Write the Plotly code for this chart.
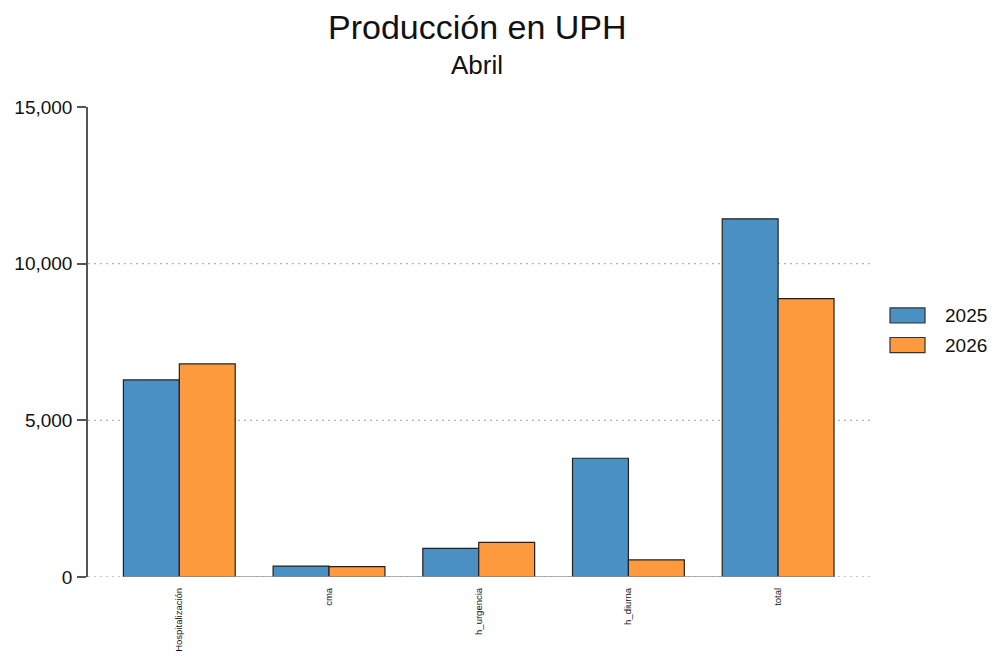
import plotly.graph_objects as go

categories = ["Hospitalización", "cma", "h_urgencia", "h_diurna", "total"]
years = ["2025", "2026"]
values_2025 = [6290, 350, 915, 3790, 11430]
values_2026 = [6800, 330, 1105, 545, 8885]
colors = ["#4a90c2", "#fd9a3d"]
y_ticks = [0, 5000, 10000, 15000]

fig = go.Figure()
for name, vals, col in zip(years, [values_2025, values_2026], colors):
    fig.add_trace(go.Bar(
        x=categories, y=vals, name=name,
        marker=dict(color=col, line=dict(color="#222222", width=1.2)),
        showlegend=False,
    ))

PLOT_L = 88
PLOT_W = 782
shapes = []
# dotted gridlines (not at the top tick)
for v in y_ticks[:-1]:
    shapes.append(dict(type="line", xref="paper", yref="y", x0=0, x1=1, y0=v, y1=v,
                       line=dict(color="#b5b5b5", width=1.3, dash="2px,4px"), layer="below"))
# baseline under the bars
shapes.append(dict(type="line", xref="x", yref="y", x0=-0.373, x1=len(categories) - 1 + 0.373,
                   y0=0, y1=0, line=dict(color="#999999", width=1.5)))

# custom legend
annotations = []
for i, (name, col) in enumerate(zip(years, colors)):
    yc = 0.5564 - i * 0.0628
    shapes.append(dict(type="rect", xref="paper", yref="paper",
                       x0=(890 - PLOT_L) / PLOT_W, x1=(925 - PLOT_L) / PLOT_W,
                       y0=yc - 0.016, y1=yc + 0.016,
                       fillcolor=col, line=dict(color="#333333", width=1.2)))
    annotations.append(dict(xref="paper", yref="paper", x=(943 - PLOT_L) / PLOT_W, y=yc, text=name,
                            showarrow=False, xanchor="left", yanchor="middle",
                            font=dict(size=19, color="#111111")))

annotations.append(dict(xref="paper", yref="paper", x=(477 - PLOT_L) / PLOT_W, y=(577 - 27) / 470,
                        text="Producción en UPH", showarrow=False, xanchor="center",
                        yanchor="middle", font=dict(size=34, color="#111111")))
annotations.append(dict(xref="paper", yref="paper", x=(477 - PLOT_L) / PLOT_W, y=(577 - 65) / 470,
                        text="Abril", showarrow=False, xanchor="center",
                        yanchor="middle", font=dict(size=26, color="#111111")))

fig.update_layout(
    width=988, height=649,
    margin=dict(l=PLOT_L - 8, r=988 - (PLOT_L - 8) - PLOT_W, t=99, b=80, autoexpand=False),
    paper_bgcolor="white", plot_bgcolor="white",
    font=dict(family="Liberation Sans, Arial, sans-serif", color="#111111"),
    barmode="group", bargap=0.253, bargroupgap=0,
    shapes=shapes, annotations=annotations,
    xaxis=dict(
        range=[-0.61, -0.61 + PLOT_W / 149.7], showgrid=False, showline=False, zeroline=False,
        tickangle=-90, tickfont=dict(size=9.5, color="#111111"), ticks="",
        ticklabelstandoff=8, automargin=False,
    ),
    yaxis=dict(
        range=[0, 15000], tickvals=y_ticks, tickformat=",", showgrid=False,
        zeroline=False, showline=True, linecolor="#555555", linewidth=1.5,
        ticks="outside", ticklen=9, tickcolor="#555555", tickwidth=1.5,
        tickfont=dict(size=19, color="#111111"), ticklabelstandoff=1,
        automargin=False,
    ),
)

fig.write_html("out.html")
